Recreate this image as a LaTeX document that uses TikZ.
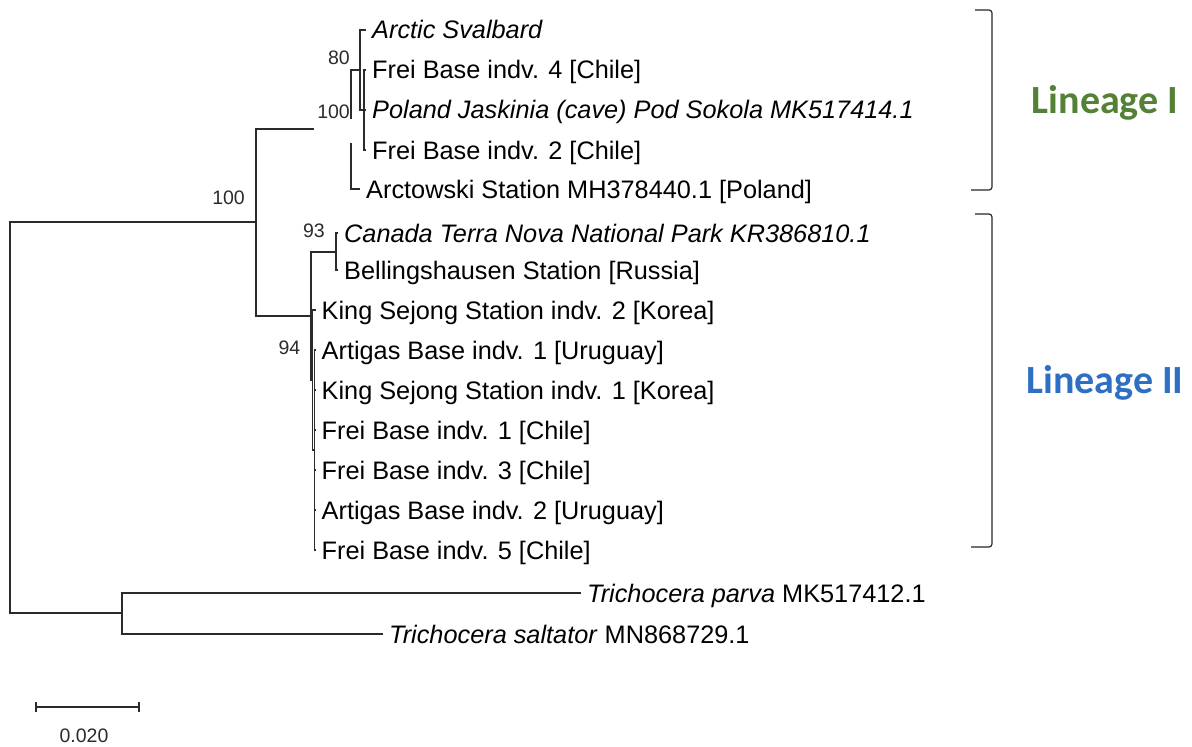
\documentclass[tikz,border=0pt]{standalone}
\usepackage{fontspec}
\setmainfont{Liberation Sans}
\newfontfamily\calibrifont{Carlito}
\usepackage{xcolor}
\usetikzlibrary{calc}
\definecolor{treeink}{HTML}{2B2B2B}
\definecolor{lingreen}{HTML}{538135}
\definecolor{linblue}{HTML}{2E6FC4}

\begin{document}
\begin{tikzpicture}[
  x=1bp,y=-1bp,
  every node/.style={inner sep=0pt},
  branch/.style={draw=treeink,line width=1.1bp},
  leaf/.style={anchor=west,inner xsep=6bp,font=\fontsize{25.3bp}{30bp}\selectfont,text height=18bp,text depth=0bp},
  boot/.style={anchor=south east,font=\fontsize{19.5bp}{23bp}\selectfont,text=treeink},
  bracket/.style={draw=black!85,line width=1.2bp,rounded corners=3bp},
  lineage/.style={font=\calibrifont\bfseries\fontsize{40bp}{48bp}\selectfont}
]
\useasboundingbox (0,0) rectangle (1192,747);

% internal nodes
\coordinate (root) at (10,417);
\coordinate (ing) at (256,222);
\coordinate (out) at (122,613);
\coordinate (l1) at (351,129);
\coordinate (na) at (360,70);
\coordinate (nb) at (364,110);
\coordinate (l2) at (311,316);
\coordinate (nc) at (336,252);
\coordinate (nd) at (312.5,380);
\coordinate (ne) at (314.5,450);

% taxa
\node[leaf] (arctic) at (366,30) {\textit{Arctic Svalbard}};
\node[leaf] (frei4) at (366,70) {Frei Base indv. 4 [Chile]};
\node[leaf] (poland) at (366,110) {\textit{Poland Jaskinia (cave) Pod Sokola MK517414.1}};
\node[leaf] (frei2) at (366,150) {Frei Base indv. 2 [Chile]};
\node[leaf] (arctowski) at (360,189) {Arctowski Station MH378440.1 [Poland]};
\node[leaf] (canada) at (338,233) {\textit{Canada Terra Nova National Park KR386810.1}};
\node[leaf] (bell) at (338,270) {Bellingshausen Station [Russia]};
\node[leaf] (ks2) at (315.5,310) {King Sejong Station indv. 2 [Korea]};
\node[leaf] (art1) at (315.5,350) {Artigas Base indv. 1 [Uruguay]};
\node[leaf] (ks1) at (315.5,390) {King Sejong Station indv. 1 [Korea]};
\node[leaf] (frei1) at (315.5,430) {Frei Base indv. 1 [Chile]};
\node[leaf] (frei3) at (315.5,470) {Frei Base indv. 3 [Chile]};
\node[leaf] (art2) at (315.5,510) {Artigas Base indv. 2 [Uruguay]};
\node[leaf] (frei5) at (315.5,550) {Frei Base indv. 5 [Chile]};
\node[leaf] (parva) at (581,593) {\textit{Trichocera parva} MK517412.1};
\node[leaf] (saltator) at (383,634) {\textit{Trichocera saltator} MN868729.1};

% branches
\draw[branch] (root) |- (ing) (root) |- (out);
\draw[branch] (out) |- (parva.west) (out) |- (saltator.west);
\draw[branch] (ing) |- (l1) (ing) |- (l2);
\draw[branch] (l1) |- (na) (l1) |- (arctowski.west);
\draw[branch] (na) |- (arctic.west) (na) |- (nb);
\draw[branch] (nb) |- (frei4.west) (nb) |- (poland.west) (nb) |- (frei2.west);
\draw[branch] (l2) |- (nc) (l2) |- (nd);
\draw[branch] (nc) |- (canada.west) (nc) |- (bell.west);
\draw[branch] (nd) |- (ks2.west) (nd) |- (ne);
\foreach \t in {art1,ks1,frei1,frei3,art2,frei5}
  \draw[branch] (ne) |- (\t.west);

% bootstrap values
\node[boot] (bs0) at ($(ing)+(-11,-17)$) {100};
\node[boot,fill=white,inner xsep=3bp,text height=0bp,text depth=24bp] (bs1) at ($(l1)+(2,14)$) {100};
\node[boot] (bs2) at ($(na)+(-10,-5)$) {80};
\node[boot] (bs3) at ($(nc)+(-11,-14)$) {93};
\node[boot] (bs4) at ($(nd)+(-12,-25)$) {94};

% lineages
\draw[bracket] (975,10) -- (992,10) -- (992,190) -- (971,190);
\draw[bracket] (975,214) -- (992,214) -- (992,547) -- (971,547);
\node[lineage,text=lingreen] (lin1) at (1105,103) {Lineage I};
\node[lineage,text=linblue] (lin2) at (1105,383) {Lineage II};

% scale bar
\coordinate (sb0) at (36,707);
\coordinate (sb1) at (139,707);
\draw[branch] (sb0) -- (sb1) ([yshift=5bp]sb0) -- ([yshift=-5bp]sb0) ([yshift=5bp]sb1) -- ([yshift=-5bp]sb1);
\node[font=\fontsize{19.5bp}{23bp}\selectfont,text=treeink] (sblab) at (84,736) {0.020};
\end{tikzpicture}
\end{document}
